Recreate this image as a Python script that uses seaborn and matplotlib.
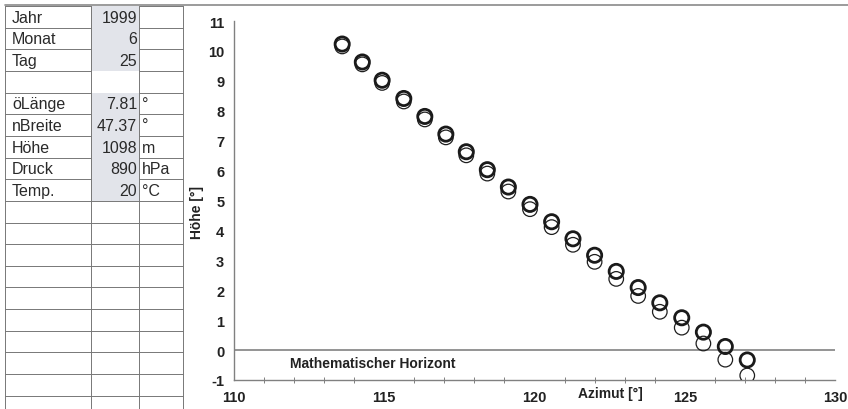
import numpy as np
import pandas as pd
import seaborn as sns
import matplotlib.pyplot as plt
from matplotlib.patches import Rectangle
from matplotlib.ticker import MultipleLocator

# Sonnenbahn: Azimut und Höhe (scheinbar / wahr)
azimut = [113.6, 114.27, 114.93, 115.65, 116.35, 117.05, 117.73, 118.43, 119.13, 119.85,
          120.57, 121.28, 122.0, 122.72, 123.45, 124.17, 124.9, 125.62, 126.35, 127.08]
hoehe_scheinbar = [10.23, 9.63, 9.02, 8.41, 7.81, 7.22, 6.63, 6.03, 5.45, 4.87,
                   4.29, 3.72, 3.17, 2.63, 2.09, 1.58, 1.08, 0.60, 0.12, -0.33]
hoehe_wahr = [10.15, 9.55, 8.93, 8.31, 7.71, 7.11, 6.51, 5.90, 5.30, 4.71,
              4.11, 3.52, 2.95, 2.38, 1.81, 1.28, 0.75, 0.22, -0.32, -0.85]

# Eingabetabelle links
zeilen = ["Jahr", "Monat", "Tag", "", "öLänge", "nBreite", "Höhe", "Druck", "Temp."]
werte = ["1999", "6", "25", "", "7.81", "47.37", "1098", "890", "20"]
einheiten = ["", "", "", "", "°", "°", "m", "hPa", "°C"]

sns.set_theme(style="white")
plt.rcParams['font.family'] = ['Liberation Sans', 'DejaVu Sans']
plt.rcParams['axes.unicode_minus'] = False

fig = plt.figure(figsize=(8.48, 4.10), dpi=100)

# Hintergrund mit Tabellengitter (Pixelkoordinaten)
bg = fig.add_axes([0, 0, 1, 1])
bg.set_xlim(0, 848)
bg.set_ylim(410, 0)
bg.axis('off')

line_c = '#777777'
row_h = 21.65
y0 = 7
rows = [y0 + row_h * k for k in range(20)]
x_c1, x_c2, x_c3, x_end = 5, 91, 139, 183

bg.add_patch(Rectangle((x_c2, rows[0]), x_c3 - x_c2, rows[3] - rows[0], color='#e2e4ea', lw=0))
bg.add_patch(Rectangle((x_c2, rows[4]), x_c3 - x_c2, rows[9] - rows[4], color='#e2e4ea', lw=0))

bg.plot([x_c1, 848], [5.5, 5.5], color='#8a8a8a', lw=1.2)
for x in [x_c1, x_c2, x_c3, x_end]:
    bg.plot([x, x], [rows[0], 410], color=line_c, lw=0.7)
for k, y in enumerate(rows):
    bg.plot([x_c1, x_c2], [y, y], color=line_c, lw=0.7)
    bg.plot([x_c3, x_end], [y, y], color=line_c, lw=0.7)
    if k >= 9:
        bg.plot([x_c2, x_c3], [y, y], color=line_c, lw=0.7)

for k, (lab, val, unit) in enumerate(zip(zeilen, werte, einheiten)):
    yc = rows[k] + row_h / 2 + 0.5
    kw = dict(fontsize=11.5, color='#2a2a2a', va='center')
    bg.text(12, yc, lab, ha='left', **kw)
    bg.text(137, yc, val, ha='right', **kw)
    bg.text(142, yc, unit, ha='left', **kw)

# Diagramm
ax = fig.add_axes([234 / 848, 29 / 410, 601 / 848, 359 / 410])
ax.patch.set_alpha(0)

df = pd.DataFrame({'Azimut': azimut, 'scheinbar': hoehe_scheinbar, 'wahr': hoehe_wahr})

sns.scatterplot(data=df, x='Azimut', y='wahr', ax=ax, marker='o', s=110,
                color='none', edgecolor='#1e1e1e', linewidth=0.9, zorder=3)
sns.scatterplot(data=df, x='Azimut', y='scheinbar', ax=ax, marker='o', s=105,
                color='none', edgecolor='#1a1a1a', linewidth=2.0, zorder=4)

ax.axhline(0, color='#777777', lw=1.1, zorder=1)

ax.set_xlim(110, 130)
ax.set_ylim(-1, 11)
ax.xaxis.set_major_locator(MultipleLocator(5))
ax.xaxis.set_minor_locator(MultipleLocator(1))
ax.yaxis.set_major_locator(MultipleLocator(1))

for s in ['top', 'right']:
    ax.spines[s].set_visible(False)
for s in ['left', 'bottom']:
    ax.spines[s].set_color('#808080')
    ax.spines[s].set_linewidth(1.0)

ax.tick_params(axis='both', which='major', direction='inout', length=8, width=0.8,
               color='#808080', labelsize=10.5, labelcolor='#222222')
ax.tick_params(axis='x', which='major', pad=3.5)
ax.tick_params(axis='y', which='major', pad=3)
ax.tick_params(axis='x', which='minor', direction='inout', length=5, width=0.7,
               color='#808080', bottom=True)
for lab in ax.get_xticklabels() + ax.get_yticklabels():
    lab.set_fontweight('bold')

ax.set_xlabel('')
ax.set_ylabel('')
ax.text(0.627, -0.036, 'Azimut [°]', transform=ax.transAxes, ha='center', va='center',
        fontsize=10, fontweight='bold', color='#222222')
ax.text(-0.062, 0.47, 'Höhe [°]', transform=ax.transAxes, ha='center', va='center',
        rotation=90, fontsize=10, fontweight='bold', color='#222222')
ax.text(111.86, -0.42, 'Mathematischer Horizont', ha='left', va='center',
        fontsize=10, fontweight='bold', color='#222222')

fig.savefig('out.png', dpi=100)
